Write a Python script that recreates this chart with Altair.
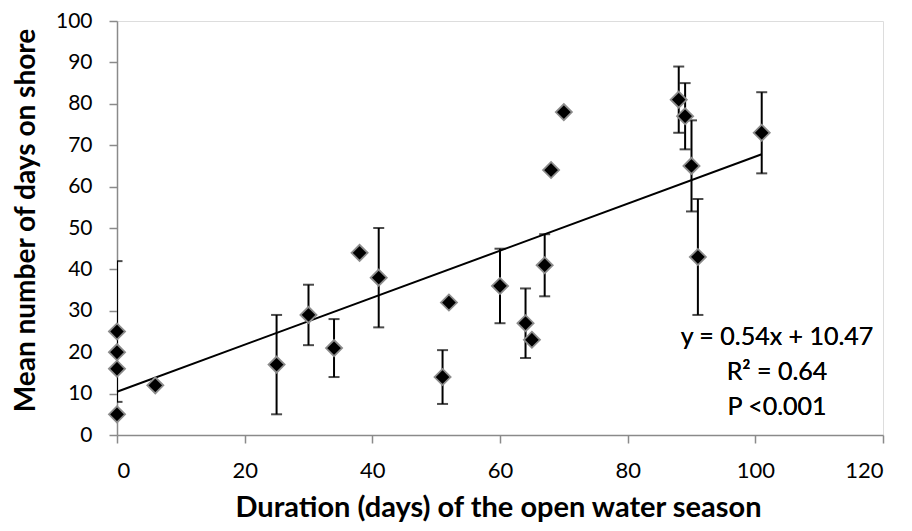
import altair as alt
import pandas as pd

# Data
open_water_days = [0, 0, 0, 0, 6, 25, 30, 34, 38, 41, 51, 52, 60, 64, 65, 67, 68, 70, 88, 89, 90, 91, 101]
days_on_shore = [25, 20, 16, 5, 12, 17, 29, 21, 44, 38, 14, 32, 36, 27, 23, 41, 64, 78, 81, 77, 65, 43, 73]
error_half = [17, 0, 0, 0, 0, 12, 7.3, 7, 0, 12, 6.5, 0, 9, 8.4, 0, 7.5, 0, 0, 8, 8, 11, 14, 9.8]

trend_x = [0, 101]
trend_y = [10.45, 67.8]

annotation_lines = ["y = 0.54x + 10.47", "R² = 0.64", "P <0.001"]

df = pd.DataFrame({"x": open_water_days, "y": days_on_shore, "e": error_half})
df["lo"] = df["y"] - df["e"]
df["hi"] = df["y"] + df["e"]
err = df[df["e"] > 0]
trend = pd.DataFrame({"x": trend_x, "y": trend_y})

FONT = "Lato"
AX = "#8a8a8a"

xscale = alt.Scale(domain=[0, 120], nice=False, zero=True)
yscale = alt.Scale(domain=[0, 100], nice=False)

xaxis = alt.Axis(values=[0, 20, 40, 60, 80, 100, 120], grid=False, domainColor=AX, tickColor=AX,
                 tickSize=8, domainWidth=1.5, tickWidth=1.5, labelFontSize=22, labelFont=FONT,
                 labelColor="black", labelBaseline="alphabetic", labelPadding=34,
                 title="Duration (days) of the open water season", titleFont=FONT,
                 titleFontSize=29, titleFontWeight="bold", titleColor="black",
                 titleBaseline="alphabetic", titleY=81, titleX=381, zindex=0)
yaxis = alt.Axis(values=list(range(0, 101, 10)), grid=False, domainColor=AX, tickColor=AX,
                 tickSize=8, domainWidth=1.5, tickWidth=1.5, labelFontSize=21, labelFont=FONT,
                 labelColor="black", labelPadding=17,
                 title="Mean number of days on shore", titleFont=FONT, titleFontSize=28,
                 titleFontWeight="bold", titleColor="black", titleAngle=-90,
                 titleBaseline="alphabetic", titleX=-83, titleY=199, zindex=0)

line = alt.Chart(trend).mark_line(color="black", strokeWidth=2).encode(
    x=alt.X("x:Q", scale=xscale, axis=xaxis), y=alt.Y("y:Q", scale=yscale, axis=yaxis))

bars = alt.Chart(err).mark_rule(color="black", strokeWidth=2, clip=True).encode(
    x=alt.X("x:Q", scale=xscale), y=alt.Y("lo:Q", scale=yscale), y2="hi:Q")
cap_lo = alt.Chart(err).mark_tick(color="black", thickness=2, size=11, orient="horizontal", clip=True).encode(
    x=alt.X("x:Q", scale=xscale), y=alt.Y("lo:Q", scale=yscale))
cap_hi = alt.Chart(err).mark_tick(color="black", thickness=2, size=11, orient="horizontal", clip=True).encode(
    x=alt.X("x:Q", scale=xscale), y=alt.Y("hi:Q", scale=yscale))

points = alt.Chart(df).mark_point(shape="diamond", filled=True, fill="black", stroke="#8c8c8c",
                                  strokeWidth=1.8, size=260, opacity=1).encode(
    x=alt.X("x:Q", scale=xscale), y=alt.Y("y:Q", scale=yscale))

text_layers = []
for line_text, ypos in zip(annotation_lines, [324, 359, 394]):
    text_layers.append(
        alt.Chart(trend).mark_text(font=FONT, fontSize=25, color="black", align="center",
                                   baseline="alphabetic", text=line_text).encode(
            x=alt.value(660), y=alt.value(ypos))
    )

chart = alt.layer(line, bars, cap_lo, cap_hi, points, *text_layers).properties(
    width=766, height=414,
    autosize=alt.AutoSizeParams(type="none"),
    padding={"left": 109, "top": 13, "right": 20, "bottom": 95},
).configure_view(stroke=None).configure(background="white")

chart.save("out.html", embed_options={"renderer": "svg", "actions": False})
